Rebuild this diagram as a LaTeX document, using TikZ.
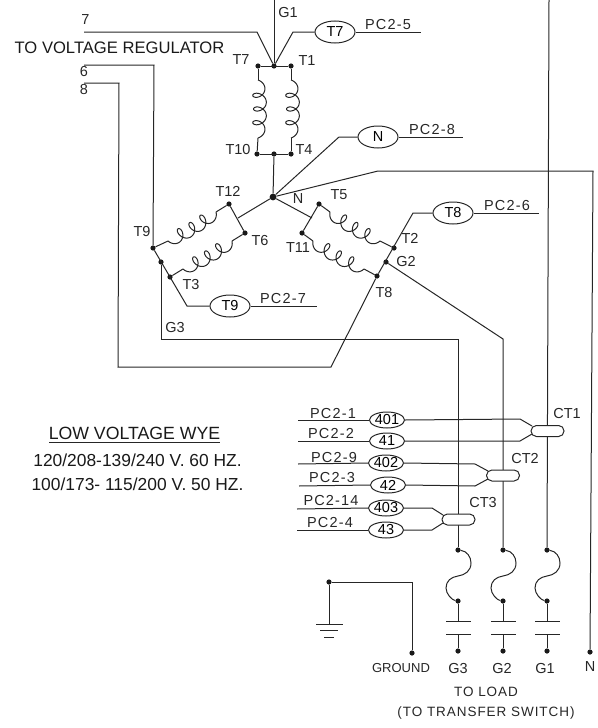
\documentclass[tikz,border=0pt]{standalone}
\usepackage{fontspec}
\setmainfont{Liberation Sans}
\newfontfamily\cadfont[LetterSpace=8]{Liberation Sans}
\newfontfamily\widefont[LetterSpace=7]{Liberation Sans}
\usetikzlibrary{shapes.geometric,calc}
\newdimen\cax\newdimen\cay\newdimen\cbx\newdimen\cby
\newcommand\coil[3]{%
 \pgfextractx{\cax}{\pgfpointanchor{#1}{center}}\pgfextracty{\cay}{\pgfpointanchor{#1}{center}}%
 \pgfextractx{\cbx}{\pgfpointanchor{#2}{center}}\pgfextracty{\cby}{\pgfpointanchor{#2}{center}}%
 \pgfmathsetmacro\cL{veclen(\cbx-\cax,\cby-\cay)}%
 \pgfmathsetmacro\cdx{(\cbx-\cax)/\cL}%
 \pgfmathsetmacro\cdy{(\cby-\cay)/\cL}%
 \pgfmathsetmacro\canx{\cax/1pt}\pgfmathsetmacro\cany{\cay/1pt}%
 \draw[line,x=1pt,y=1pt] plot[domain=-90:1170,samples=150]
  ({\canx+\cdx*((\cL-10)/1260*(\x+90)+5*sin(\x)+5)-(#3)*\cdy*(6.5*cos(\x)+2*sin((\x+90)/7))},
   {\cany+\cdy*((\cL-10)/1260*(\x+90)+5*sin(\x)+5)+(#3)*\cdx*(6.5*cos(\x)+2*sin((\x+90)/7))});}
\newcommand\fuse[2]{\draw[line] (#1) .. controls +(9,1) and +(0,-6) .. ++(13,13) .. controls +(0,8) and +(7,-1) .. ++(-13,13) .. controls +(-7,1) and +(0,-7) .. ++(-12,12) .. controls +(0,6) and +(-6,-1) .. (#2);}
\tikzset{
 line/.style={draw=black!85,line width=1pt},
 dot/.style={circle,fill=black!90,inner sep=0pt,minimum size=5.2pt},
 bigdot/.style={circle,fill=black!90,inner sep=0pt,minimum size=6.8pt},
 oval/.style={ellipse,draw=black!85,line width=1pt,minimum width=40pt,minimum height=22pt,inner sep=0pt,font=\fontsize{14.5}{14}\selectfont},
 sm/.style={ellipse,draw=black!85,line width=1pt,fill=white,minimum width=35pt,minimum height=16pt,inner sep=0pt,font=\fontsize{14.5}{14}\selectfont},
 capsule/.style={draw=black!85,line width=1pt,fill=white,rounded corners=5.4pt,minimum width=33pt,minimum height=11pt,inner sep=0pt},
 lab/.style={inner sep=0pt,text=black!85,font=\fontsize{14.5}{14}\selectfont},
 pc/.style={inner sep=0pt,text=black!85,font=\cadfont\fontsize{14.5}{14}\selectfont},
 wd/.style={inner sep=0pt,text=black!85,font=\widefont\fontsize{13.5}{14}\selectfont},
 big/.style={inner sep=0pt,text=black!90,font=\fontsize{16.6}{16}\selectfont},
 lvt/.style={inner sep=0pt,text=black!90,font=\fontsize{17.7}{16}\selectfont},
 mid/.style={inner sep=0pt,text=black!90,font=\fontsize{17.4}{16}\selectfont}
}
\begin{document}
\begin{tikzpicture}[x=1pt,y=-1pt]
\useasboundingbox (0,0) rectangle (597,728);
% dots
\coordinate (top1) at (274,0);
\node[dot] (d7) at (258,66) {};
\node[dot] (dG) at (274,66) {};
\node[dot] (d1) at (291,66) {};
\node[dot] (d10) at (257,154) {};
\node[dot] (dm) at (274,154) {};
\node[dot] (d4) at (291,154) {};
\node[bigdot] (n) at (273,197) {};
\node[dot] (d12) at (229,204) {};
\node[dot] (d6) at (245,233) {};
\node[dot] (d9) at (153,248) {};
\node[dot] (dg3) at (161,262) {};
\node[dot] (d3) at (170,277) {};
\node[dot] (d5) at (319,204) {};
\node[dot] (d11) at (302,233) {};
\node[dot] (d2) at (394,248) {};
\node[dot] (dg2) at (386,262) {};
\node[dot] (d8) at (377,276) {};
% ovals
\node[oval] (ot7) at (335,32) {T7};
\node[oval] (on) at (378,137) {N};
\node[oval] (ot8) at (453,213) {T8};
\node[oval] (ot9) at (230,306) {T9};
% coordinates
\coordinate (e7) at (84,32); \coordinate (b7) at (257,32); \coordinate (b1) at (293,32);
\coordinate (ep5) at (421,32); \coordinate (ep8) at (463,137); \coordinate (bn) at (339,137);
\coordinate (bN) at (378,171); \coordinate (cN) at (593,171);
\node[dot] (tN) at (590,652) {};
\coordinate (g1top) at (549,0);
\coordinate (mr) at (312,218); \coordinate (ml) at (238,218);
\coordinate (b8) at (413,213); \coordinate (ep6) at (539,213);
\coordinate (b9) at (187,306); \coordinate (ep7) at (317,306);
\coordinate (c8a) at (331,367); \coordinate (c8b) at (118,367); \coordinate (c8c) at (119,83); \coordinate (e8) at (84,83);
\coordinate (c6a) at (154,65); \coordinate (e6) at (84,65);
\coordinate (g3a) at (161,339); \coordinate (g3b) at (458,339);
\coordinate (g2a) at (503,339);
% fuse and cap points
\foreach \nm/\xx in {a/458,b/503,c/547}{
 \node[dot] (f\nm1) at (\xx,550) {};
 \node[dot] (f\nm2) at (\xx,601) {};
 \node[dot] (f\nm3) at (\xx,651) {};
 \coordinate (p\nm1) at (\xx,621); \coordinate (p\nm2) at (\xx,634);
 \coordinate (pl\nm1) at (\xx-12,621); \coordinate (pr\nm1) at (\xx+13,621);
 \coordinate (pl\nm2) at (\xx-12,634); \coordinate (pr\nm2) at (\xx+13,634);
}
% main wires
\draw[line] (e7) -- (b7) -- (dG) -- (b1) -- (ot7.west);
\draw[line] (ot7.east) -- (ep5);
\draw[line] (top1) -- (dG);
\draw[line] (d7) -- (d1);
\draw[line] (d10) -- (d4);
\draw[line] (dm) -- (n);
\draw[line] (n) -- (bn) -- (on.west);
\draw[line] (on.east) -- (ep8);
\draw[line] (n) -- (bN) -- (cN) -- (tN);
\draw[line] (g1top) -- (fc1);
\draw[line] (n) -- (mr); \draw[line] (d5) -- (d11);
\draw[line] (n) -- (ml); \draw[line] (d12) -- (d6);
\draw[line] (d8) -- (b8) -- (ot8.west);
\draw[line] (ot8.east) -- (ep6);
\draw[line] (d9) -- (b9) -- (ot9.west);
\draw[line] (ot9.east) -- (ep7);
\draw[line] (d8) -- (c8a) -- (c8b) -- (c8c) -- (e8);
\draw[line] (d9) -- (c6a) -- (e6);
\draw[line] (dg3) -- (g3a) -- (g3b) -- (fa1);
\draw[line] (dg2) -- (g2a) -- (fb1);
% coils
\coordinate (c1a) at (258,80); \coordinate (c1b) at (258,138);
\coordinate (c2a) at (291,80); \coordinate (c2b) at (291,138);
\coordinate (c3a) at (216,212); \coordinate (c3b) at (168,241);
\coordinate (c4a) at (232,241); \coordinate (c4b) at (183,269);
\coordinate (c5a) at (330,212); \coordinate (c5b) at (380,241);
\coordinate (c6b) at (313,241); \coordinate (c7b) at (364,269);
\draw[line] (d7) -- (c1a); \draw[line] (c1b) -- (d10);
\draw[line] (d1) -- (c2a); \draw[line] (c2b) -- (d4);
\draw[line] (d12) -- (c3a); \draw[line] (c3b) -- (d9);
\draw[line] (d6) -- (c4a); \draw[line] (c4b) -- (d3);
\draw[line] (d5) -- (c5a); \draw[line] (c5b) -- (d2);
\draw[line] (d11) -- (c6b); \draw[line] (c7b) -- (d8);
\coil{c1a}{c1b}{1}
\coil{c2a}{c2b}{1}
\coil{c3a}{c3b}{1}
\coil{c4a}{c4b}{1}
\coil{c5a}{c5b}{-1}
\coil{c6b}{c7b}{-1}
% fuses and caps
\foreach \nm in {a,b,c}{
 \fuse{f\nm1}{f\nm2}
 \draw[line] (f\nm2) -- (p\nm1);
 \draw[line] (pl\nm1) -- (pr\nm1);
 \draw[line] (pl\nm2) -- (pr\nm2);
 \draw[line] (p\nm2) -- (f\nm3);
}
% CT section
\node[capsule] (ct1) at (547.5,431) {};
\node[capsule] (ct2) at (503,475.5) {};
\node[capsule] (ct3) at (458.5,519.5) {};
\node[sm] (s401) at (387,420) {401};
\node[sm] (s41) at (387,441) {41};
\node[sm] (s402) at (386,463) {402};
\node[sm] (s42) at (388,485) {42};
\node[sm] (s403) at (386,508) {403};
\node[sm] (s43) at (386,530) {43};
\coordinate (l1) at (298,420); \coordinate (l2) at (298,441); \coordinate (l3) at (298,464);
\coordinate (l4) at (299,486); \coordinate (l5) at (297,509); \coordinate (l6) at (297,530);
\coordinate (r1) at (520,419); \coordinate (r1e) at (532,426);
\coordinate (r2) at (520,441); \coordinate (r2e) at (532,434);
\coordinate (r3) at (475,464); \coordinate (r3e) at (488,471);
\coordinate (r4) at (475,486); \coordinate (r4e) at (488,479);
\coordinate (r5) at (432,508); \coordinate (r5e) at (443,515);
\coordinate (r6) at (432,530); \coordinate (r6e) at (443,523);
\draw[line] (l1) -- (s401.west); \draw[line] (s401.east) -- (r1) -- (r1e);
\draw[line] (l2) -- (s41.west); \draw[line] (s41.east) -- (r2) -- (r2e);
\draw[line] (l3) -- (s402.west); \draw[line] (s402.east) -- (r3) -- (r3e);
\draw[line] (l4) -- (s42.west); \draw[line] (s42.east) -- (r4) -- (r4e);
\draw[line] (l5) -- (s403.west); \draw[line] (s403.east) -- (r5) -- (r5e);
\draw[line] (l6) -- (s43.west); \draw[line] (s43.east) -- (r6) -- (r6e);
% ground
\node[dot] (gd) at (329,582) {};
\coordinate (gc) at (412,582);
\node[dot] (gt) at (412,653) {};
\coordinate (gb) at (329,624);
\coordinate (gbar1l) at (316,624); \coordinate (gbar1r) at (343,624);
\coordinate (gbar2l) at (320,630); \coordinate (gbar2r) at (338,630);
\coordinate (gbar3l) at (324,637); \coordinate (gbar3r) at (334,637);
\draw[line] (gt) -- (gc) -- (gd) -- (gb);
\draw[line] (gbar1l) -- (gbar1r); \draw[line] (gbar2l) -- (gbar2r); \draw[line] (gbar3l) -- (gbar3r);
% labels
\node[lab] (t7l) at (85.5,20) {7};
\node[big] (tvr) at (119.5,48) {TO VOLTAGE REGULATOR};
\node[lab] (t6l) at (84,72) {6};
\node[lab] (t8l) at (84,90) {8};
\node[lab] (lG1) at (288,13) {G1};
\node[lab] (lT7) at (241,60) {T7};
\node[lab] (lT1) at (307,61) {T1};
\node[lab] (lT10) at (238,150) {T10};
\node[lab] (lT4) at (304,150) {T4};
\node[lab] (lN) at (298,199) {N};
\node[lab] (lT12) at (228,191) {T12};
\node[lab] (lT5) at (339,195) {T5};
\node[lab] (lT9) at (142,232) {T9};
\node[lab] (lT6) at (260,241) {T6};
\node[lab] (lT11) at (298,248) {T11};
\node[lab] (lT2) at (410,238) {T2};
\node[lab] (lG2) at (406,262) {G2};
\node[lab] (lT3) at (191,285) {T3};
\node[lab] (lT8) at (384,293) {T8};
\node[lab] (lG3) at (175,328) {G3};
\node[pc] (pc5) at (388,25) {PC2-5};
\node[pc] (pc8) at (432,130) {PC2-8};
\node[pc] (pc6) at (507,206) {PC2-6};
\node[pc] (pc7) at (283,299) {PC2-7};
\node[pc] (pc1) at (333,414) {PC2-1};
\node[pc] (pc2) at (331,434) {PC2-2};
\node[pc] (pc9) at (334,458) {PC2-9};
\node[pc] (pc3) at (332,478) {PC2-3};
\node[pc] (pc14) at (331,501) {PC2-14};
\node[pc] (pc4) at (330,523) {PC2-4};
\node[lab] (lc1) at (567,414) {CT1};
\node[lab] (lc2) at (525,459) {CT2};
\node[lab] (lc3) at (483,503) {CT3};
\node[lvt] (lv) at (134.5,433) {LOW VOLTAGE WYE};
\coordinate (ula) at (49,442.5); \coordinate (ulb) at (220,442.5);
\draw[line] (ula) -- (ulb);
\node[mid] (v1) at (137.5,460) {120/208-139/240 V. 60 HZ.};
\node[mid] (v2) at (137.5,484) {100/173- 115/200 V. 50 HZ.};
\node[lab,font=\fontsize{13}{14}\selectfont] (gl) at (401,668) {GROUND};
\node[lab] (lg3) at (458,668) {G3};
\node[lab] (lg2) at (502,668) {G2};
\node[lab] (lg1) at (545,668) {G1};
\node[lab] (nl) at (590,667) {N};
\node[wd] (tl) at (486,692) {TO LOAD};
\node[wd] (tts) at (486,713) {(TO TRANSFER SWITCH)};
\end{tikzpicture}
\end{document}
